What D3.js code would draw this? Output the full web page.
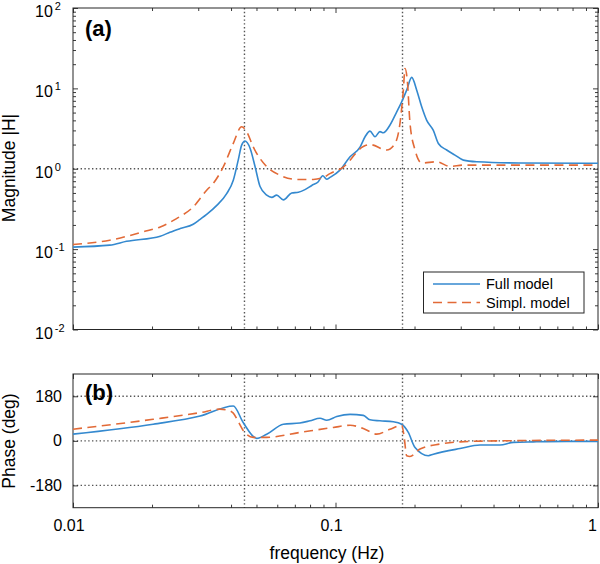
<!DOCTYPE html>
<html><head><meta charset="utf-8">
<script src="https://cdn.jsdelivr.net/npm/d3@7"></script>
<style>
body{margin:0;background:#fff;}
svg{display:block;font-family:Arial,"Liberation Sans",Helvetica,sans-serif;}
</style></head>
<body><svg id="c" width="600" height="564"></svg>
<script>
// ---------- data ----------
const magFreqFull = [0.0100,0.0138,0.0160,0.0215,0.0234,0.0256,0.0287,0.0305,0.0323,0.0353,0.0385,0.0408,0.0426,0.0439,0.0452,0.0473,0.0494,0.0516,0.0547,0.0572,0.0597,0.0633,0.0681,0.0722,0.0765,0.0812,0.0860,0.0894,0.0926,0.0953,0.1040,0.1136,0.1240,0.1296,0.1353,0.1414,0.1477,0.1521,0.1613,0.1711,0.1787,0.1867,0.1951,0.2039,0.2130,0.2226,0.2359,0.2465,0.2652,0.2852,0.3069,0.3451,0.5000,1.0000];
const magFull     = [0.106,0.112,0.125,0.145,0.162,0.180,0.204,0.235,0.270,0.35,0.49,0.72,1.28,1.97,2.21,1.79,1.06,0.60,0.47,0.44,0.47,0.41,0.50,0.51,0.55,0.62,0.69,0.82,0.74,0.78,0.96,1.41,1.86,2.5,2.94,2.5,2.9,2.8,3.5,5.1,6.8,9.5,13.7,9.5,5.9,4.0,3.0,2.06,1.71,1.48,1.28,1.22,1.18,1.17];

const magFreqSimpl = [0.0100,0.0138,0.0185,0.0215,0.0248,0.0287,0.0323,0.0342,0.0374,0.0408,0.0439,0.0459,0.0486,0.0547,0.0615,0.0712,0.0823,0.0899,0.0953,0.1071,0.1276,0.1353,0.1567,0.1685,0.1761,0.1813,0.1840,0.1877,0.1922,0.2009,0.2130,0.2430,0.2730,0.3069,0.3451,1.0000];
const magSimpl     = [0.114,0.129,0.164,0.189,0.240,0.335,0.541,0.656,1.06,2.07,3.33,2.88,1.87,1.06,0.83,0.736,0.736,0.78,0.87,1.05,1.89,2.0,1.71,2.06,3.7,9.5,17.7,12.6,3.7,1.71,1.18,1.22,1.07,1.11,1.11,1.11];

const phaseFreqFull = [0.0100,0.0202,0.0305,0.0408,0.0445,0.0501,0.0547,0.0633,0.0732,0.0800,0.0873,0.0926,0.1011,0.1136,0.1276,0.1353,0.1477,0.1661,0.1787,0.1894,0.2009,0.2257,0.2359,0.2981,0.3553,0.4233,0.4757,0.5669,0.7599,1.0000];
const phaseFull     = [27,67,100,141,74,10,27,67,72,81,91,83,98,107,103,85,81,77,67,34,-27,-60,-54,-31,-17,-17,-6,-4,-2,-2];

const phaseFreqSimpl = [0.0100,0.0202,0.0305,0.0363,0.0385,0.0408,0.0425,0.0445,0.0486,0.0547,0.0732,0.0981,0.1136,0.1276,0.1435,0.1613,0.1787,0.1824,0.1867,0.1922,0.2098,0.2500,0.2981,0.4233,1.0000];
const phaseSimpl     = [47,87,114,128,125,112,80,42,14,14,34,54,63,50,27,47,63,20,-60,-63,-33,-13,-4,0,3];

const markerFreqs = [0.045, 0.18];
const xTickValues = [0.01, 0.1, 1];
const xTickLabels = ["0.01", "0.1", "1"];
const magTickExps = [2, 1, 0, -1, -2];
const phaseTickValues = [180, 0, -180];
const phaseTickLabels = ["180", "0", "-180"];
const seriesNames = ["Full model", "Simpl. model"];

// ---------- layout ----------
const svg = d3.select("#c");
const L = 73, R = 598;
const topA = 8, botA = 329.5, topB = 374, botB = 507.7;
const blue = "#3489cf", orange = "#e26a37", axisCol = "#262626", gridCol = "#555";

const x = d3.scaleLog().domain([0.01, 1]).range([L, R]);
const yM = d3.scaleLog().domain([0.01, 100]).range([botA, topA]);
const yP = d3.scaleLinear().domain([-270, 270]).range([botB, topB]);

const minorX = [];
[0.01, 0.1].forEach(d => { for (let k = 2; k <= 9; k++) minorX.push(d * k); });
const minorY = [];
[0.01, 0.1, 1, 10].forEach(d => { for (let k = 2; k <= 9; k++) minorY.push(d * k); });

svg.append("defs").selectAll("clipPath").data([["ca", topA, botA], ["cb", topB, botB]]).join("clipPath")
  .attr("id", d => d[0]).append("rect")
  .attr("x", L).attr("y", d => d[1]).attr("width", R - L).attr("height", d => d[2] - d[1]);

function panel(y, top, bot, hGrid, yMajor, yMinor) {
  const g = svg.append("g");
  g.selectAll(".vg").data(markerFreqs).join("line")
    .attr("x1", d => x(d)).attr("x2", d => x(d)).attr("y1", top).attr("y2", bot)
    .attr("stroke", gridCol).attr("stroke-width", 1.4).attr("stroke-dasharray", "1.4,2.4");
  g.selectAll(".hg").data(hGrid).join("line")
    .attr("x1", L).attr("x2", R).attr("y1", d => y(d)).attr("y2", d => y(d))
    .attr("stroke", gridCol).attr("stroke-width", 1.4).attr("stroke-dasharray", "1.4,2.4");
  const tk = (gen, vals, size, tr) => {
    const a = g.append("g").attr("transform", tr)
      .call(gen.tickValues(vals).tickSize(size).tickFormat(""));
    a.select(".domain").remove();
    a.selectAll("line").attr("stroke", axisCol).attr("stroke-width", 0.9);
  };
  tk(d3.axisBottom(x), xTickValues, -5, `translate(0,${bot})`);
  tk(d3.axisBottom(x), minorX, -3, `translate(0,${bot})`);
  tk(d3.axisTop(x), xTickValues, -5, `translate(0,${top})`);
  tk(d3.axisTop(x), minorX, -3, `translate(0,${top})`);
  tk(d3.axisLeft(y), yMajor, -5, `translate(${L},0)`);
  tk(d3.axisRight(y), yMajor, -5, `translate(${R},0)`);
  if (yMinor.length) {
    tk(d3.axisLeft(y), yMinor, -3, `translate(${L},0)`);
    tk(d3.axisRight(y), yMinor, -3, `translate(${R},0)`);
  }
  g.append("rect").attr("x", L).attr("y", top).attr("width", R - L).attr("height", bot - top)
    .attr("fill", "none").attr("stroke", axisCol).attr("stroke-width", 1);
  return g;
}

panel(yM, topA, botA, [1], magTickExps.map(e => Math.pow(10, e)), minorY);
panel(yP, topB, botB, phaseTickValues, phaseTickValues, []);

const mkLine = (y) => d3.line().x(d => x(d[0])).y(d => y(d[1])).curve(d3.curveMonotoneX);
const zip = (a, b) => a.map((v, i) => [v, b[i]]);
const lineA = svg.append("g").attr("clip-path", "url(#ca)");
lineA.append("path").datum(zip(magFreqFull, magFull)).attr("d", mkLine(yM))
  .attr("fill", "none").attr("stroke", blue).attr("stroke-width", 1.6);
lineA.append("path").datum(zip(magFreqSimpl, magSimpl)).attr("d", mkLine(yM))
  .attr("fill", "none").attr("stroke", orange).attr("stroke-width", 1.6).attr("stroke-dasharray", "9,5.5");
const lineB = svg.append("g").attr("clip-path", "url(#cb)");
lineB.append("path").datum(zip(phaseFreqFull, phaseFull)).attr("d", mkLine(yP))
  .attr("fill", "none").attr("stroke", blue).attr("stroke-width", 1.6);
lineB.append("path").datum(zip(phaseFreqSimpl, phaseSimpl)).attr("d", mkLine(yP))
  .attr("fill", "none").attr("stroke", orange).attr("stroke-width", 1.6).attr("stroke-dasharray", "9,5.5");

const magLab = svg.append("g").selectAll("text").data(magTickExps).join("text")
  .attr("x", 35).attr("y", d => yM(Math.pow(10, d)) + 9)
  .attr("font-size", 16).attr("fill", "#000");
magLab.append("tspan").text("10");
magLab.append("tspan").attr("font-size", 11).attr("dx", 2).attr("dy", -7).text(d => String(d));

svg.append("g").selectAll("text").data(phaseTickValues).join("text")
  .attr("x", 62).attr("y", d => yP(d) + 5.5).attr("text-anchor", "end")
  .attr("font-size", 16).attr("fill", "#000").text((d, i) => phaseTickLabels[i]);

svg.append("g").selectAll("text").data(xTickValues).join("text")
  .attr("x", (d, i) => i === xTickValues.length - 1 ? 597 : x(d) - 4).attr("y", 531)
  .attr("text-anchor", (d, i) => i === xTickValues.length - 1 ? "end" : "middle")
  .attr("font-size", 16).attr("fill", "#000").text((d, i) => xTickLabels[i]);

svg.append("text").attr("transform", "translate(15,168) rotate(-90)").attr("text-anchor", "middle")
  .attr("font-size", 17.5).attr("fill", "#000").text("Magnitude |H|");
svg.append("text").attr("transform", "translate(15,441) rotate(-90)").attr("text-anchor", "middle")
  .attr("font-size", 17.5).attr("fill", "#000").text("Phase (deg)");
svg.append("text").attr("x", 327).attr("y", 559).attr("text-anchor", "middle")
  .attr("font-size", 17.5).attr("fill", "#000").text("frequency (Hz)");

svg.append("text").attr("x", 85).attr("y", 36).attr("font-size", 22).attr("font-weight", "bold").text("(a)");
svg.append("text").attr("x", 85).attr("y", 400).attr("font-size", 22).attr("font-weight", "bold").text("(b)");

const lg = svg.append("g");
lg.append("rect").attr("x", 423.5).attr("y", 272).attr("width", 160.5).attr("height", 41)
  .attr("fill", "#fff").attr("stroke", axisCol).attr("stroke-width", 1);
const legItems = [[blue, null], [orange, "9,5.5"]];
seriesNames.forEach((n, i) => {
  const yy = 284 + i * 18.5;
  lg.append("line").attr("x1", 433).attr("x2", 480).attr("y1", yy).attr("y2", yy)
    .attr("stroke", legItems[i][0]).attr("stroke-width", 1.6)
    .attr("stroke-dasharray", legItems[i][1]);
  lg.append("text").attr("x", 486).attr("y", yy + 5).attr("font-size", 14.5).attr("fill", "#000").text(n);
});
</script></body></html>
